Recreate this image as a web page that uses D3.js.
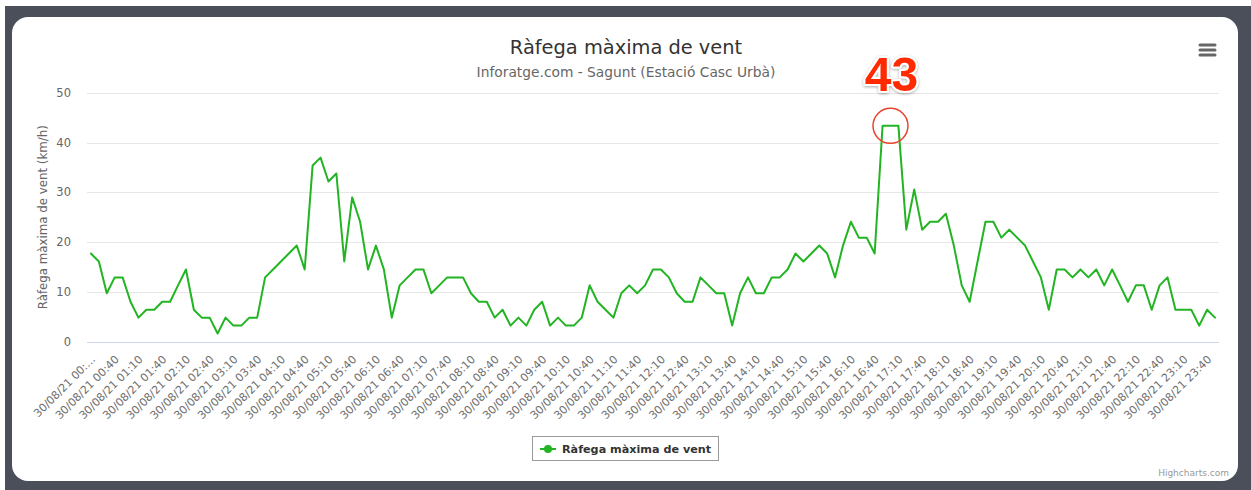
<!DOCTYPE html>
<html>
<head>
<meta charset="utf-8">
<script src="https://cdn.jsdelivr.net/npm/d3@7"></script>
<style>
  html, body { margin: 0; padding: 0; background: #fff; }
  svg { display: block; }
  text { font-family: "DejaVu Sans", sans-serif; }
</style>
</head>
<body>
<div id="chart"></div>
<script>
// wind gust (km/h) every 10 minutes, 30/08/21 00:10 -> 23:50
var gust = [
  17.7, 16.1, 9.7, 12.9, 12.9, 8.0, 4.8, 6.4, 6.4, 8.0,
  8.0, 11.3, 14.5, 6.4, 4.8, 4.8, 1.6, 4.8, 3.2, 3.2,
  4.8, 4.8, 12.9, 14.5, 16.1, 17.7, 19.3, 14.5, 35.4, 37.0,
  32.2, 33.8, 16.1, 29.0, 24.1, 14.5, 19.3, 14.5, 4.8, 11.3,
  12.9, 14.5, 14.5, 9.7, 11.3, 12.9, 12.9, 12.9, 9.7, 8.0,
  8.0, 4.8, 6.4, 3.2, 4.8, 3.2, 6.4, 8.0, 3.2, 4.8,
  3.2, 3.2, 4.8, 11.3, 8.0, 6.4, 4.8, 9.7, 11.3, 9.7,
  11.3, 14.5, 14.5, 12.9, 9.7, 8.0, 8.0, 12.9, 11.3, 9.7,
  9.7, 3.2, 9.7, 12.9, 9.7, 9.7, 12.9, 12.9, 14.5, 17.7,
  16.1, 17.7, 19.3, 17.7, 12.9, 19.3, 24.1, 20.9, 20.9, 17.7,
  43.4, 43.4, 43.4, 22.5, 30.6, 22.5, 24.1, 24.1, 25.7, 19.3,
  11.3, 8.0, 16.1, 24.1, 24.1, 20.9, 22.5, 20.9, 19.3, 16.1,
  12.9, 6.4, 14.5, 14.5, 12.9, 14.5, 12.9, 14.5, 11.3, 14.5,
  11.3, 8.0, 11.3, 11.3, 6.4, 11.3, 12.9, 6.4, 6.4, 6.4,
  3.2, 6.4, 4.8
];

var day = "30/08/21";
var firstMinute = 10;   // 00:10
var stepMinutes = 10;
var labelEvery = 3;
var yTicks = [0, 10, 20, 30, 40, 50];

var chartTitle = "Ràfega màxima de vent";
var chartSubtitle = "Inforatge.com - Sagunt (Estació Casc Urbà)";
var yTitle = "Ràfega màxima de vent (km/h)";
var seriesName = "Ràfega màxima de vent";
var peakLabel = "43";

var categories = gust.map(function(d, i) {
    var m = firstMinute + i * stepMinutes;
    var hh = String(Math.floor(m / 60)).padStart(2, "0");
    var mm = String(m % 60).padStart(2, "0");
    return day + " " + hh + ":" + mm;
});

function init() {
    var w = 1251, h = 490;
    var left = 87, right = 1219, top = 93, bottom = 341.5;
    var green = "#22b422";

    var svg = d3.select("#chart").append("svg")
        .attr("width", w)
        .attr("height", h);

    // screenshot frame
    svg.append("rect").attr("x", 5).attr("y", 6).attr("width", w - 5).attr("height", h - 6)
        .attr("fill", "#4b4f5a");
    svg.append("rect").attr("x", 12).attr("y", 17).attr("width", 1226).attr("height", 464)
        .attr("rx", 16).attr("fill", "#fff");

    var xScale = d3.scaleBand()
        .domain(d3.range(gust.length))
        .range([left, right]);

    var yScale = d3.scaleLinear()
        .domain([0, 50])
        .range([bottom, top]);

    var cx = function(i) { return xScale(i) + xScale.bandwidth() / 2; };

    // title
    svg.append("text").attr("x", 626).attr("y", 54)
        .attr("text-anchor", "middle").attr("fill", "#333").style("font-size", "19.4px")
        .text(chartTitle);
    svg.append("text").attr("x", 626).attr("y", 77)
        .attr("text-anchor", "middle").attr("fill", "#666").style("font-size", "13.8px")
        .text(chartSubtitle);

    // menu button
    [45, 50, 55].forEach(function(yy) {
        svg.append("line").attr("x1", 1200).attr("x2", 1215).attr("y1", yy).attr("y2", yy)
            .attr("stroke", "#666").attr("stroke-width", 3).attr("stroke-linecap", "round");
    });

    // grid + y labels
    svg.append("g").selectAll("line")
        .data(yTicks.filter(function(d) { return d > 0; }))
        .enter().append("line")
        .attr("x1", left).attr("x2", right)
        .attr("y1", function(d) { return Math.round(yScale(d)) + 0.5; })
        .attr("y2", function(d) { return Math.round(yScale(d)) + 0.5; })
        .attr("stroke", "#e6e6e6");

    svg.append("line")
        .attr("x1", left).attr("x2", right)
        .attr("y1", Math.round(yScale(0)) + 0.5).attr("y2", Math.round(yScale(0)) + 0.5)
        .attr("stroke", "#ccd6eb");

    svg.append("g").selectAll("text")
        .data(yTicks)
        .enter().append("text")
        .attr("x", 71)
        .attr("y", function(d) { return yScale(d) + 4; })
        .attr("text-anchor", "end")
        .attr("fill", "#666")
        .style("font-size", "11.5px")
        .text(function(d) { return d; });

    svg.append("text")
        .attr("transform", "translate(47," + ((top + bottom) / 2) + ") rotate(-90)")
        .attr("text-anchor", "middle")
        .attr("fill", "#666")
        .style("font-size", "11.8px")
        .text(yTitle);

    // x labels
    var labelIdx = d3.range(0, gust.length, labelEvery);
    svg.append("g").selectAll("text")
        .data(labelIdx)
        .enter().append("text")
        .attr("transform", function(i) {
            return "translate(" + (cx(i) + 5) + ",360) rotate(-45)";
        })
        .attr("text-anchor", "end")
        .attr("fill", "#6e6e6e")
        .style("font-size", "11px")
        .text(function(i) {
            var s = categories[i];
            return i === 0 ? s.slice(0, 12) + "…" : s;
        });

    // series
    var line = d3.line()
        .x(function(d, i) { return cx(i); })
        .y(function(d) { return yScale(d); });

    svg.append("path")
        .datum(gust)
        .attr("d", line)
        .attr("fill", "none")
        .attr("stroke", green)
        .attr("stroke-width", 2)
        .attr("stroke-linejoin", "round")
        .attr("stroke-linecap", "round");

    // peak annotation
    var maxVal = d3.max(gust);
    var peaks = gust.map(function(d, i) { return d === maxVal ? i : -1; })
        .filter(function(i) { return i >= 0; });
    var peakI = peaks[Math.floor(peaks.length / 2)];
    var px = cx(peakI), py = yScale(maxVal);

    svg.append("circle")
        .attr("cx", px).attr("cy", py).attr("r", 17.5)
        .attr("fill", "none").attr("stroke", "#e8422a").attr("stroke-width", 1.5);

    var defs = svg.append("defs");
    var f = defs.append("filter").attr("id", "shadow")
        .attr("x", "-30%").attr("y", "-30%").attr("width", "160%").attr("height", "160%");
    f.append("feDropShadow").attr("dx", 0).attr("dy", 1).attr("stdDeviation", 1.5)
        .attr("flood-color", "#000").attr("flood-opacity", 0.35);

    svg.append("text")
        .attr("x", px + 1).attr("y", py - 35)
        .attr("text-anchor", "middle")
        .attr("filter", "url(#shadow)")
        .style("font-family", "'Liberation Sans', Arial, sans-serif")
        .style("font-weight", "bold")
        .style("font-size", "48px")
        .attr("fill", "#ff2a00")
        .attr("stroke", "#fff")
        .attr("stroke-width", 4)
        .attr("stroke-linejoin", "round")
        .attr("paint-order", "stroke")
        .text(peakLabel);

    // legend
    var lg = svg.append("g");
    lg.append("rect").attr("x", 532.5).attr("y", 436.5).attr("width", 186).attr("height", 24)
        .attr("fill", "#fff").attr("stroke", "#999");
    lg.append("line").attr("x1", 540).attr("x2", 556).attr("y1", 449).attr("y2", 449)
        .attr("stroke", green).attr("stroke-width", 2);
    lg.append("circle").attr("cx", 548).attr("cy", 449).attr("r", 4).attr("fill", green);
    lg.append("text").attr("x", 562).attr("y", 453)
        .attr("fill", "#333").style("font-size", "11.2px").style("font-weight", "bold")
        .text(seriesName);

    // credits
    svg.append("text").attr("x", 1229).attr("y", 476)
        .attr("text-anchor", "end").attr("fill", "#999").style("font-size", "9px")
        .text("Highcharts.com");
}

window.onload = init;
</script>
</body>
</html>
